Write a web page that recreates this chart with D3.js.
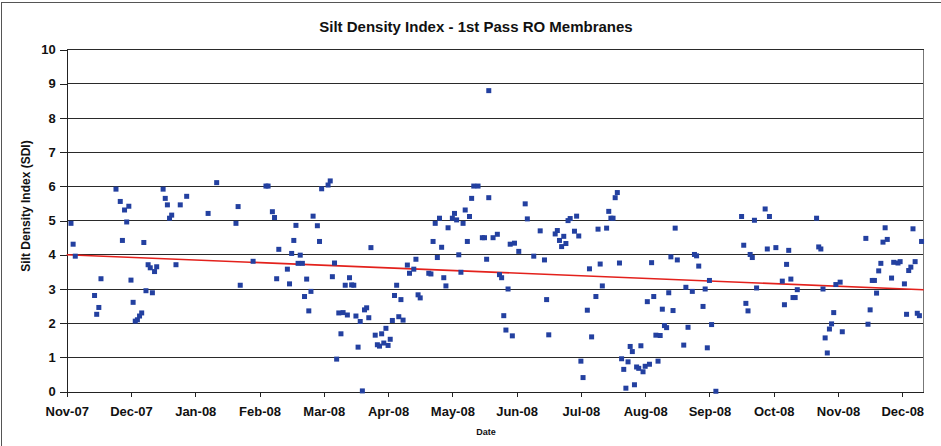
<!DOCTYPE html>
<html>
<head>
<meta charset="utf-8">
<script src="https://cdn.jsdelivr.net/npm/d3@7"></script>
<style>
	body { margin: 0; background: #fff; }
	text { font-family: "Liberation Sans", Arial, sans-serif; fill: #111; }
</style>
</head>
<body>
<svg id="chart" width="941" height="446"></svg>
<script>
// SDI readings: days since the first axis tick (15-Nov-07) and the measured index
let days = [
	2, 3, 4, 13, 14, 15, 16, 23, 25, 26, 27, 28, 29, 30, 31, 32, 33, 34, 35, 36,
	37, 38, 39, 40, 41, 42, 45, 46, 47, 48, 49, 51, 53, 56, 66, 70, 79, 80, 81, 87,
	93, 94, 96, 97, 98, 99, 103, 104, 105, 106, 107, 108, 109, 110, 111, 112, 113, 114, 115, 117,
	118, 119, 122, 123, 124, 125, 126, 127, 128, 129, 130, 131, 132, 133, 134, 135, 136, 137, 138, 139,
	140, 141, 142, 144, 145, 146, 147, 148, 149, 150, 151, 152, 153, 154, 155, 156, 157, 159, 160, 162,
	163, 164, 165, 169, 170, 171, 172, 173, 174, 175, 176, 177, 178, 180, 181, 182, 183, 184, 185, 186,
	187, 188, 189, 190, 192, 194, 195, 196, 197, 197, 199, 201, 202, 203, 204, 205, 206, 207, 208, 209,
	211, 214, 215, 218, 221, 223, 224, 225, 228, 229, 230, 231, 232, 233, 234, 235, 237, 238, 239, 240,
	241, 243, 244, 245, 247, 248, 249, 250, 252, 253, 254, 255, 256, 257, 258, 259, 260, 261, 262, 263,
	264, 265, 266, 267, 268, 269, 270, 271, 272, 273, 274, 275, 276, 277, 278, 279, 280, 281, 282, 283,
	284, 285, 288, 289, 290, 292, 293, 294, 295, 297, 298, 299, 300, 301, 303, 315, 316, 317, 318, 319,
	320, 321, 322, 326, 327, 328, 331, 334, 335, 336, 337, 338, 339, 340, 341, 350, 351, 352, 353, 354,
	355, 356, 357, 358, 359, 361, 362, 373, 374, 375, 376, 377, 378, 379, 380, 381, 382, 383, 385, 386,
	388, 389, 391, 392, 393, 394, 395, 396, 397, 398, 399
];

let sdi = [
	4.92, 4.31, 3.96, 2.81, 2.26, 2.46, 3.30, 5.92, 5.56, 4.42, 5.31, 4.96, 5.42, 3.26, 2.61, 2.06, 2.10, 2.21, 2.30, 4.36,
	2.95, 3.71, 3.62, 2.89, 3.51, 3.65, 5.92, 5.65, 5.46, 5.07, 5.16, 3.71, 5.46, 5.71, 5.21, 6.11, 4.92, 5.41, 3.11, 3.81,
	6.01, 6.01, 5.26, 5.09, 3.30, 4.16, 3.58, 3.15, 4.04, 4.42, 4.86, 3.75, 3.99, 3.75, 2.78, 3.29, 2.36, 2.93, 5.13, 4.85,
	4.39, 5.93, 6.04, 6.16, 3.36, 3.76, 0.95, 2.30, 1.69, 2.31, 3.11, 2.24, 3.33, 3.12, 3.11, 2.21, 1.30, 2.05, 0.02, 2.39,
	2.45, 2.16, 4.21, 1.65, 1.37, 1.33, 1.69, 1.42, 1.85, 1.35, 1.53, 2.08, 2.81, 3.11, 2.19, 2.69, 2.09, 3.70, 3.46, 3.58,
	3.87, 2.83, 2.74, 3.46, 3.44, 4.39, 4.92, 3.92, 5.07, 4.22, 3.33, 3.09, 4.79, 5.07, 5.21, 5.02, 4.00, 3.49, 4.92, 5.31,
	4.39, 5.12, 5.65, 6.01, 6.01, 4.50, 4.50, 3.87, 5.67, 8.80, 4.50, 4.60, 3.42, 3.33, 2.22, 1.80, 3.00, 4.31, 1.63, 4.34,
	4.10, 5.49, 5.05, 3.96, 4.70, 3.85, 2.69, 1.66, 4.61, 4.71, 4.42, 4.24, 4.54, 4.33, 5.00, 5.06, 4.69, 5.13, 4.55, 0.89,
	0.41, 2.38, 3.59, 1.60, 2.78, 4.75, 3.73, 3.09, 4.78, 5.27, 5.07, 5.07, 5.67, 5.82, 3.76, 0.96, 0.65, 0.10, 0.87, 1.32,
	1.17, 0.20, 0.72, 0.68, 1.34, 0.58, 0.74, 2.63, 0.80, 3.77, 2.78, 1.65, 0.89, 1.64, 2.41, 1.93, 1.87, 2.89, 3.94, 2.37,
	4.78, 3.85, 1.36, 3.05, 1.88, 2.93, 4.01, 3.97, 3.67, 2.49, 3.00, 1.28, 3.25, 1.96, 0.01, 5.12, 4.28, 2.58, 2.36, 4.01,
	3.92, 5.01, 3.03, 5.34, 4.17, 5.12, 4.21, 3.23, 2.54, 3.72, 4.13, 3.29, 2.75, 2.75, 2.98, 5.07, 4.23, 4.17, 3.00, 1.57,
	1.13, 1.83, 1.98, 2.31, 3.13, 3.20, 1.75, 4.48, 1.97, 2.39, 3.25, 3.25, 2.88, 3.53, 3.75, 4.37, 4.79, 4.45, 3.32, 3.78,
	3.76, 3.80, 3.15, 2.26, 3.54, 3.64, 4.76, 3.80, 2.29, 2.22, 4.39
];

// linear trendline: value at the left and right edge of the plot
let trendStart = 4.0;
let trendEnd = 2.98;

let startDate = new Date(Date.UTC(2007, 10, 15));
let spanDays = 400;
let tickStepDays = 30;
let yTicks = d3.range(0, 11);

let plot = {left: 66.7, right: 923.7, top: 49.6, bottom: 391.6};

let xScale = d3.scaleUtc()
		.domain([startDate, d3.utcDay.offset(startDate, spanDays)])
		.range([plot.left, plot.right]);

let yScale = d3.scaleLinear()
		.domain([0, 10])
		.range([plot.bottom, plot.top]);

let data = days.map((d, i) => ({date: d3.utcDay.offset(startDate, d), value: sdi[i]}));

let svg = d3.select('#chart');

// outer chart frame (cropped at right and bottom)
svg.append('rect')
		.attr('x', 1.5)
		.attr('y', 2.5)
		.attr('width', 960)
		.attr('height', 480)
		.attr('fill', 'none')
		.attr('stroke', '#555');

// ---- gridlines ----
svg.append('g')
		.selectAll('line')
		.data(yTicks.slice(1))
		.enter()
		.append('line')
		.attr('x1', plot.left)
		.attr('x2', plot.right)
		.attr('y1', d => yScale(d))
		.attr('y2', d => yScale(d))
		.attr('stroke', '#2a2a2a')
		.attr('shape-rendering', 'crispEdges');

// right side of the plot frame
svg.append('line')
		.attr('x1', plot.right)
		.attr('x2', plot.right)
		.attr('y1', plot.top)
		.attr('y2', plot.bottom)
		.attr('stroke', '#777')
		.attr('shape-rendering', 'crispEdges');

// ---- axes ----
let xAxis = d3.axisBottom(xScale)
		.tickValues(d3.range(0, spanDays, tickStepDays).map(d => d3.utcDay.offset(startDate, d)))
		.tickFormat(d3.utcFormat('%b-%y'))
		.tickSize(5)
		.tickSizeOuter(0)
		.tickPadding(10);

let gx = svg.append('g')
		.attr('transform', `translate(0,${plot.bottom})`)
		.call(xAxis);

let yAxis = d3.axisLeft(yScale)
		.tickValues(yTicks)
		.tickSize(7)
		.tickSizeOuter(0)
		.tickPadding(4);

let gy = svg.append('g')
		.attr('transform', `translate(${plot.left},0)`)
		.call(yAxis);

[gx, gy].forEach(g => {
	g.selectAll('.domain').attr('stroke', '#222').attr('shape-rendering', 'crispEdges');
	g.selectAll('.tick line').attr('stroke', '#222').attr('shape-rendering', 'crispEdges');
	g.selectAll('text')
			.attr('fill', '#111')
			.style('font-family', '"Liberation Sans", Arial, sans-serif')
			.style('font-size', '13px')
			.style('font-weight', 'bold');
});

// ---- trendline ----
svg.append('line')
		.attr('x1', xScale.range()[0])
		.attr('x2', xScale.range()[1])
		.attr('y1', yScale(trendStart))
		.attr('y2', yScale(trendEnd))
		.attr('stroke', '#e3211c')
		.attr('stroke-width', 1.6);

// ---- markers ----
let size = 5;
svg.append('g')
		.selectAll('rect')
		.data(data)
		.enter()
		.append('rect')
		.attr('x', d => xScale(d.date) - size / 2)
		.attr('y', d => yScale(d.value) - size / 2)
		.attr('width', size)
		.attr('height', size)
		.attr('fill', '#2340a0');

// ---- titles ----
svg.append('text')
		.attr('x', 476)
		.attr('y', 32)
		.attr('text-anchor', 'middle')
		.style('font-size', '15px')
		.style('font-weight', 'bold')
		.text('Silt Density Index - 1st Pass RO Membranes');

svg.append('text')
		.attr('transform', 'translate(30,206) rotate(-90)')
		.attr('text-anchor', 'middle')
		.style('font-size', '12px')
		.style('font-weight', 'bold')
		.text('Silt Density Index (SDI)');

svg.append('text')
		.attr('x', 486)
		.attr('y', 435)
		.attr('text-anchor', 'middle')
		.style('font-size', '9px')
		.style('font-weight', 'bold')
		.text('Date');
</script>
</body>
</html>
